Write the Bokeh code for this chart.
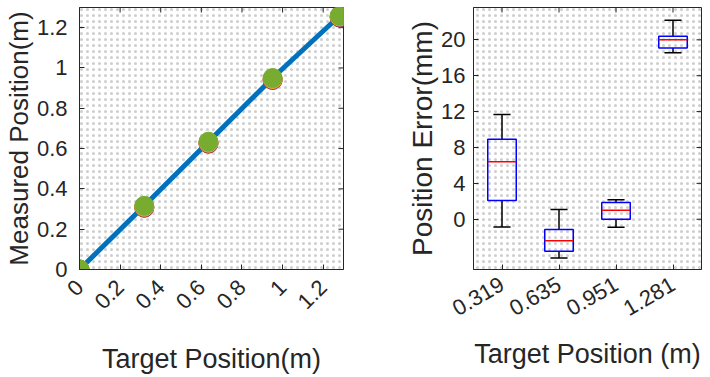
import math
from bokeh.plotting import figure
from bokeh.layouts import row
from bokeh.models import (FixedTicker, BoxAnnotation, ColumnDataSource, Range1d, FactorRange)
from bokeh.transform import dodge
from bokeh.embed import file_html
from bokeh.resources import INLINE

# ---------------- data ----------------
target = [0, 0.319, 0.635, 0.951, 1.281]
meas_red = [0, 0.306, 0.624, 0.940, 1.250]
meas_purple = [0, 0.308, 0.626, 0.942, 1.252]
meas_orange = [0, 0.311, 0.629, 0.945, 1.255]
meas_green = [0, 0.316, 0.634, 0.950, 1.259]

left_ticks = [0, 0.2, 0.4, 0.6, 0.8, 1, 1.2]
left_tick_labels = ["0", "0.2", "0.4", "0.6", "0.8", "1", "1.2"]
left_max = 1.3

cats = ["0.319", "0.635", "0.951", "1.281"]
whisk_low = [-0.85, -4.31, -0.88, 18.56]
q1 = [2.10, -3.57, 0.00, 19.08]
median = [6.41, -2.39, 0.99, 20.00]
q3 = [8.91, -1.14, 1.88, 20.40]
whisk_high = [11.68, 1.10, 2.17, 22.17]
right_ticks = [0, 4, 8, 12, 16, 20]
right_min, right_max = -5.6, 23.6

FONT = "Liberation Sans"
TXT = "#262626"


def style_axis(ax, tick_px="22px", label_px="27px"):
    ax.major_label_text_font = FONT
    ax.major_label_text_font_size = tick_px
    ax.major_label_text_color = TXT
    ax.axis_label_text_font = FONT
    ax.axis_label_text_font_size = label_px
    ax.axis_label_text_font_style = "normal"
    ax.axis_label_text_color = TXT
    ax.axis_line_color = TXT
    ax.major_tick_line_color = TXT
    ax.major_tick_in = 5
    ax.major_tick_out = 0
    ax.minor_tick_line_color = None


def dots(p):
    p.add_layout(BoxAnnotation(fill_alpha=0, line_color=None, hatch_pattern="dot",
                               hatch_color="#c8c8c8", hatch_scale=6, hatch_weight=1.0,
                               hatch_alpha=0.9, level="underlay"))


# ---------------- left plot ----------------
p1 = figure(width=360, height=376, output_backend="svg", toolbar_location=None,
            x_range=Range1d(0, left_max), y_range=Range1d(0, left_max),
            min_border_left=76, min_border_right=17, min_border_top=7, min_border_bottom=107)
p1.outline_line_color = TXT
p1.outline_line_width = 1
p1.grid.visible = False
dots(p1)

p1.xaxis.ticker = FixedTicker(ticks=left_ticks)
p1.yaxis.ticker = FixedTicker(ticks=left_ticks)
p1.xaxis.major_label_overrides = dict(zip(left_ticks, left_tick_labels))
p1.yaxis.major_label_overrides = dict(zip(left_ticks, left_tick_labels))
p1.xaxis.major_label_orientation = math.pi / 4
p1.xaxis.axis_label = "Target Position(m)"
p1.yaxis.axis_label = "Measured Position(m)"
style_axis(p1.xaxis[0])
style_axis(p1.yaxis[0], label_px="26px")
p1.yaxis.major_label_standoff = 12
p1.yaxis.axis_label_standoff = 0
p1.xaxis.major_label_standoff = 14
p1.xaxis.axis_label_standoff = 25

# mirrored tick marks on top and right edges
p1.ray(x=left_ticks, y=left_max, length=5, length_units="screen", angle=-math.pi / 2,
       line_color=TXT, line_width=1)
p1.ray(x=left_max, y=left_ticks, length=5, length_units="screen", angle=math.pi,
       line_color=TXT, line_width=1)

p1.line(target, meas_green, line_color="#0072BD", line_width=5)
p1.scatter(target, meas_red, size=19, color="#D95319")
p1.scatter(target, meas_purple, size=19, color="#7E2F8E")
p1.scatter(target, meas_orange, size=19, color="#EDB120")
p1.scatter(target, meas_green, size=19, color="#77AC30")

# ---------------- right plot ----------------
src = ColumnDataSource(dict(cat=cats, lo=whisk_low, q1=q1, med=median, q3=q3, hi=whisk_high))
p2 = figure(width=349, height=376, output_backend="svg", toolbar_location=None,
            x_range=FactorRange(*cats, range_padding=0), y_range=Range1d(right_min, right_max),
            min_border_left=113, min_border_right=8, min_border_top=6, min_border_bottom=105)
p2.outline_line_color = TXT
p2.outline_line_width = 1
p2.grid.visible = False
dots(p2)

p2.yaxis.ticker = FixedTicker(ticks=right_ticks)
p2.xaxis.major_label_orientation = math.pi / 6
p2.xaxis.axis_label = "Target Position (m)"
p2.yaxis.axis_label = "Position Error(mm)"
style_axis(p2.xaxis[0])
style_axis(p2.yaxis[0], label_px="28px")
p2.yaxis.major_label_standoff = 8
p2.yaxis.axis_label_standoff = 0
p2.xaxis.major_label_standoff = 13
p2.xaxis.axis_label_standoff = 13

p2.ray(x=cats, y=right_max, length=5, length_units="screen", angle=-math.pi / 2,
       line_color=TXT, line_width=1)
p2.ray(x=dodge("cat", 0.5, range=p2.x_range), y="y",
       source=ColumnDataSource(dict(cat=[cats[-1]] * len(right_ticks), y=right_ticks)),
       length=5, length_units="screen", angle=math.pi, line_color=TXT, line_width=1)

# whiskers
p2.segment(x0="cat", y0="q3", x1="cat", y1="hi", source=src, line_color="black", line_width=1.5)
p2.segment(x0="cat", y0="lo", x1="cat", y1="q1", source=src, line_color="black", line_width=1.5)
p2.segment(x0=dodge("cat", -0.15, range=p2.x_range), y0="hi",
           x1=dodge("cat", 0.15, range=p2.x_range), y1="hi", source=src, line_color="black", line_width=1.5)
p2.segment(x0=dodge("cat", -0.15, range=p2.x_range), y0="lo",
           x1=dodge("cat", 0.15, range=p2.x_range), y1="lo", source=src, line_color="black", line_width=1.5)
# boxes
p2.vbar(x="cat", width=0.5, bottom="q1", top="q3", source=src, fill_color=None,
        line_color="#0000FF", line_width=1.5)
p2.segment(x0=dodge("cat", -0.25, range=p2.x_range), y0="med",
           x1=dodge("cat", 0.25, range=p2.x_range), y1="med", source=src,
           line_color="#FF0000", line_width=1.5)

layout = row(p1, p2)
open("out.html", "w").write(file_html(layout, INLINE))
